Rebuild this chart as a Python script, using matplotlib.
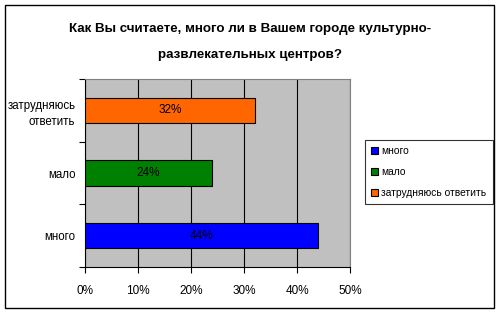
import matplotlib.pyplot as plt
from matplotlib.patches import Rectangle

plt.rcParams['font.family'] = ['Liberation Sans', 'DejaVu Sans']

# data
categories = ['много', 'мало', 'затрудняюсь\nответить']
legend_labels = ['много', 'мало', 'затрудняюсь ответить']
values = [44, 24, 32]
colors = ['#0000FF', '#008000', '#FF6600']
xticks = [0, 10, 20, 30, 40, 50]
title = 'Как Вы считаете, много ли в Вашем городе культурно-\nразвлекательных центров?'

fig = plt.figure(figsize=(5.01, 3.12), dpi=100)
fig.patch.set_facecolor('white')

# outer frame
fig.patches.append(Rectangle((5 / 501, 4 / 312), 489 / 501, 303 / 312,
                             transform=fig.transFigure, fill=False,
                             edgecolor='black', linewidth=1.0))

fig.text(0.5, 0.866, title, ha='center', va='center', fontsize=9.6,
         fontweight='bold', linespacing=2.5)

ax = fig.add_axes([85 / 501, 45 / 312, 265 / 501, 188 / 312])
ax.set_facecolor('#C0C0C0')

y = range(len(categories))
bars = ax.barh(y, values, height=0.4, color=colors, edgecolor='black',
               linewidth=0.8, zorder=3)
for b, v in zip(bars, values):
    ax.text(b.get_width() / 2, b.get_y() + b.get_height() / 2, f'{v}%',
            ha='center', va='center', fontsize=8.5, zorder=4)

ax.set_xlim(0, 50)
ax.set_ylim(-0.5, 2.5)
ax.set_xticks(xticks)
ax.set_xticklabels([f'{t}%' for t in xticks], fontsize=8.5)
ax.xaxis.grid(True, color='black', linewidth=0.8, zorder=1)
ax.tick_params(axis='x', direction='out', length=4, width=0.8, pad=9)

ax.set_yticks(list(y))
ax.set_yticklabels(categories, fontsize=8.3, ha='right', linespacing=1.5)
ax.tick_params(axis='y', which='major', length=0, pad=7)
ax.set_yticks([-0.5, 0.5, 1.5, 2.5], minor=True)
ax.tick_params(axis='y', which='minor', direction='out', length=4, width=0.8)

for s in ax.spines.values():
    s.set_linewidth(0.8)
    s.set_color('black')
ax.spines['top'].set_color('#808080')
ax.spines['right'].set_color('#808080')

handles = [Rectangle((0, 0), 1, 1, facecolor=c, edgecolor='black', linewidth=0.8)
           for c in colors]
leg = fig.legend(handles, legend_labels, loc='upper left',
                 bbox_to_anchor=(365 / 501, 1 - 140 / 312), fontsize=7.4,
                 frameon=True, fancybox=False, edgecolor='black',
                 handlelength=0.7, handleheight=0.7, handletextpad=0.3,
                 labelspacing=1.05, borderpad=0.6, borderaxespad=0)
leg.get_frame().set_linewidth(0.8)

fig.savefig('out.png', dpi=100)
